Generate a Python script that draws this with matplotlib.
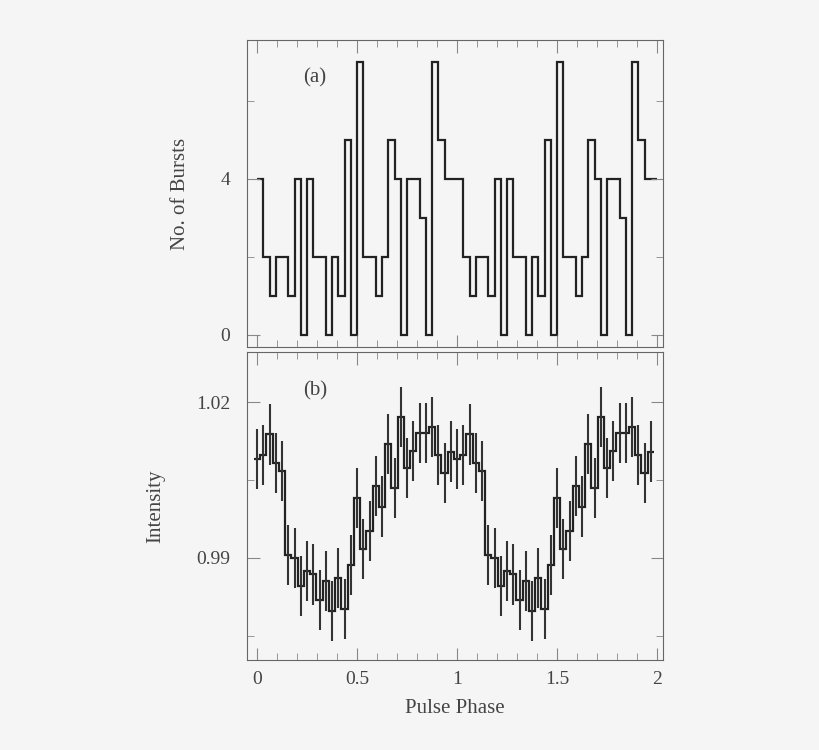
import matplotlib
matplotlib.use("Agg")
import matplotlib.pyplot as plt
import numpy as np
from matplotlib.ticker import MultipleLocator, FixedLocator

bursts_cycle = [4, 2, 1, 2, 2, 1, 4, 0, 4, 2, 2, 0, 2, 1, 5, 0,
                7, 2, 2, 1, 2, 5, 4, 0, 4, 4, 3, 0, 7, 5, 4, 4]
intensity_cycle = [1.0090, 1.0098, 1.0138, 1.0083, 1.0068, 0.9905, 0.9900, 0.9846,
                   0.9875, 0.9868, 0.9819, 0.9855, 0.9797, 0.9861, 0.9801, 0.9886,
                   1.0015, 0.9917, 0.9952, 1.0039, 0.9999, 1.0119, 1.0034, 1.0171,
                   1.0074, 1.0106, 1.0141, 1.0141, 1.0152, 1.0099, 1.0063, 1.0105]
intensity_err = [0.0058] * 32

nb = 32
bursts = np.array(bursts_cycle * 2)
inten = np.array(intensity_cycle * 2)
err = np.array(intensity_err * 2)

bg = '#f5f5f5'
plt.rcParams['font.family'] = ['Liberation Serif', 'DejaVu Serif']
fig = plt.figure(figsize=(8.2, 7.5), dpi=100, facecolor=bg)
ax1 = fig.add_axes([247/820, 1-347/750, 416/820, 307/750], facecolor=bg)
ax2 = fig.add_axes([247/820, 1-660/750, 416/820, 308/750], facecolor=bg)

edges = np.arange(2*nb + 1) / nb
ax1.stairs(bursts, edges, color='#222222', lw=1.6, baseline=None)
ax1.set_xlim(-0.05, 2.03)
ax1.set_ylim(-0.31, 7.56)
ax1.yaxis.set_major_locator(FixedLocator([0, 4]))
ax1.yaxis.set_minor_locator(MultipleLocator(2))
ax1.set_ylabel('No. of Bursts', fontsize=15, color='#444444', labelpad=22)
ax1.text(0.135, 0.86, '(a)', transform=ax1.transAxes, fontsize=15, color='#444444')

centers = np.arange(2*nb) / nb
edges2 = np.arange(2*nb + 1) / nb - 0.5/nb
ax2.stairs(inten, edges2, color='#222222', lw=1.6, baseline=None)
ax2.errorbar(centers, inten, yerr=err, fmt='none', ecolor='#333333', elinewidth=1.5)
ax2.set_xlim(-0.05, 2.03)
ax2.set_ylim(0.9703, 1.0297)
ax2.yaxis.set_major_locator(FixedLocator([0.99, 1.02]))
ax2.yaxis.set_minor_locator(MultipleLocator(0.015))
ax2.set_ylabel('Intensity', fontsize=15, color='#444444', labelpad=22)
ax2.set_xlabel('Pulse Phase', fontsize=15, color='#444444', labelpad=8)
ax2.text(0.135, 0.86, '(b)', transform=ax2.transAxes, fontsize=15, color='#444444')

for ax in (ax1, ax2):
    ax.xaxis.set_major_locator(MultipleLocator(0.5))
    ax.xaxis.set_minor_locator(MultipleLocator(0.1))
    ax.tick_params(which='both', direction='in', top=True, right=True,
                   labelsize=14, colors='#888888', labelcolor='#444444')
    ax.tick_params(which='major', length=9)
    ax.tick_params(which='minor', length=5)
    ax.tick_params(axis='y', pad=12)
    ax.tick_params(axis='x', pad=8)
    for s in ax.spines.values():
        s.set_color('#666666')
ax2.set_xticks([0, 0.5, 1, 1.5, 2])
ax2.set_xticklabels(['0', '0.5', '1', '1.5', '2'])
ax2.set_yticks([0.99, 1.02])
ax2.set_yticklabels(['0.99', '1.02'])
ax1.set_xticklabels([])

fig.savefig('out.png', dpi=100, facecolor=bg)
